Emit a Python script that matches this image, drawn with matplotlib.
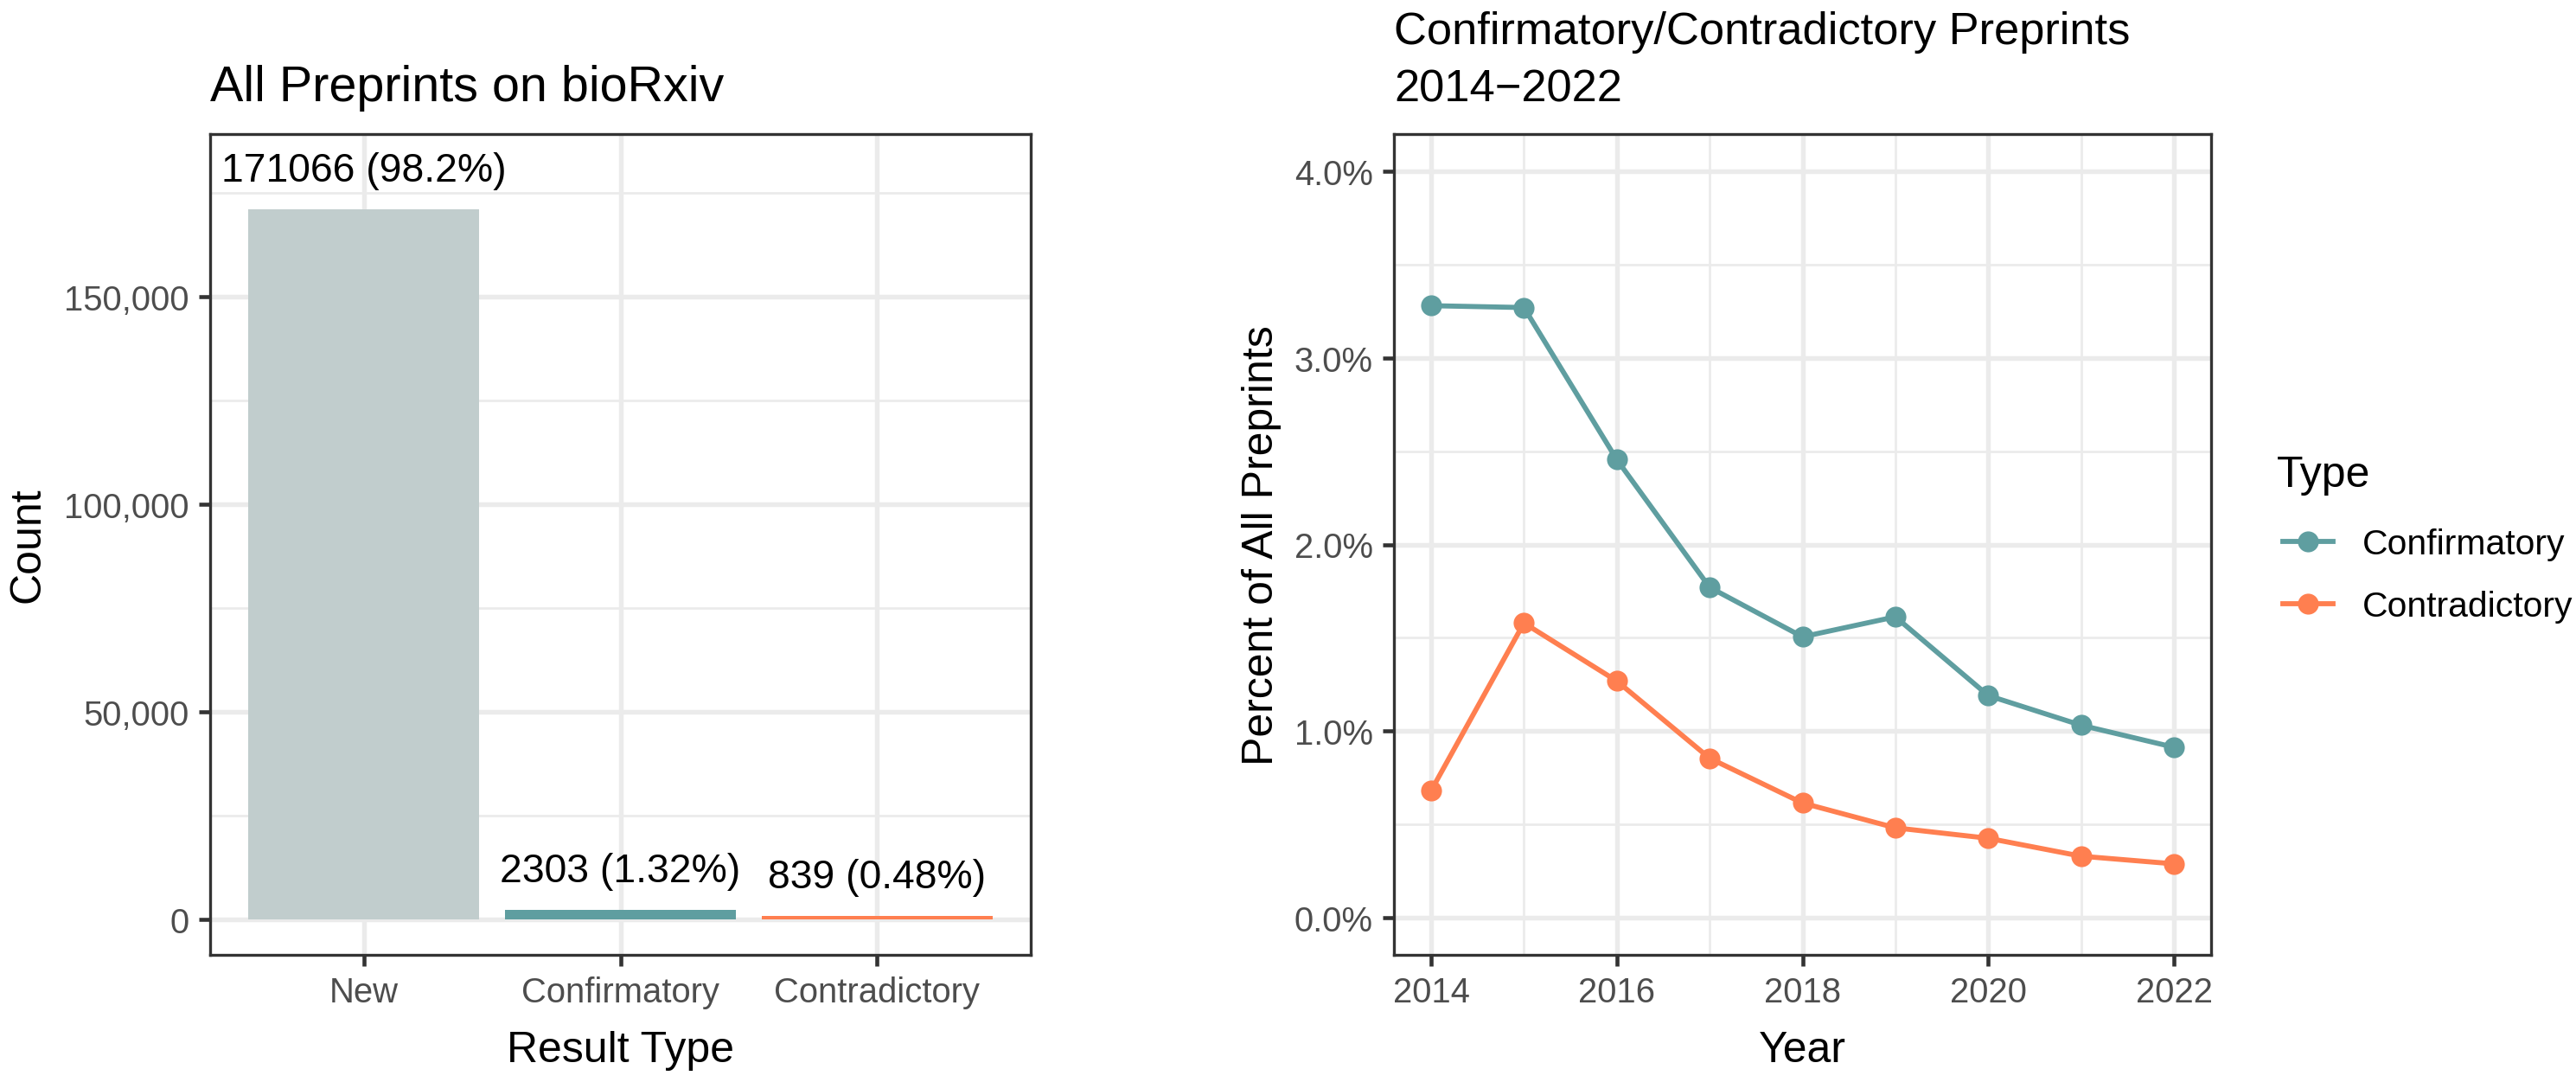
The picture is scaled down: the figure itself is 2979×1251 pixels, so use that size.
import matplotlib
matplotlib.use("Agg")
import matplotlib.pyplot as plt
from matplotlib.ticker import FuncFormatter, MultipleLocator, FixedLocator

plt.rcParams['font.family'] = ['Liberation Sans', 'DejaVu Sans']

# ---- data ----
categories = ["New", "Confirmatory", "Contradictory"]
counts = [171066, 2303, 839]
count_labels = ["171066 (98.2%)", "2303 (1.32%)", "839 (0.48%)"]
bar_colors = ["#C1CDCD", "#5F9EA0", "#FF7F50"]

years = [2014, 2015, 2016, 2017, 2018, 2019, 2020, 2021, 2022]
confirmatory_pct = [3.28, 3.27, 2.455, 1.77, 1.505, 1.612, 1.19, 1.031, 0.913]
contradictory_pct = [0.68, 1.579, 1.268, 0.854, 0.614, 0.481, 0.425, 0.329, 0.288]
series_names = ["Confirmatory", "Contradictory"]
series_colors = ["#5F9EA0", "#FF7F50"]

W, H = 2979, 1252
fig = plt.figure(figsize=(W / 300, H / 300), dpi=300)

def ax_rect(x0, x1, y0, y1):
    return [x0 / W, 1 - y1 / H, (x1 - x0) / W, (y1 - y0) / H]

grid_col = "#EBEBEB"
border_col = "#333333"
tick_col = "#4D4D4D"

def style(ax):
    ax.set_facecolor("white")
    for s in ax.spines.values():
        s.set_color(border_col)
        s.set_linewidth(0.8)
    ax.tick_params(axis="both", which="major", length=3.2, width=1.1, color=border_col,
                   labelsize=9.6, labelcolor=tick_col, pad=2.6)
    ax.tick_params(axis="both", which="minor", length=0)
    ax.grid(True, which="major", color=grid_col, linewidth=1.3, zorder=0)
    ax.grid(True, which="minor", color=grid_col, linewidth=0.65, zorder=0)
    ax.set_axisbelow(True)

AX_TOP, AX_BOT = 156, 1105

# ---- left panel ----
ax1 = fig.add_axes(ax_rect(243, 1192, AX_TOP, AX_BOT))
style(ax1)
xpos = list(range(len(categories)))
ax1.bar(xpos, counts, width=0.9, color=bar_colors, zorder=2)
for x, c, lab in zip(xpos, counts, count_labels):
    ax1.annotate(lab, (x, c), xytext=(0, 8), textcoords="offset points",
                 ha="center", va="baseline", fontsize=11.1, color="black")
ax1.set_xlim(-0.6, 2.6)
ax1.set_ylim(-8500, 189200)
ax1.set_xticks(xpos)
ax1.set_xticklabels(categories)
ax1.yaxis.set_major_locator(FixedLocator([0, 50000, 100000, 150000]))
ax1.yaxis.set_minor_locator(FixedLocator([25000, 75000, 125000, 175000]))
ax1.yaxis.set_major_formatter(FuncFormatter(lambda v, p: f"{int(v):,}"))
ax1.set_xlabel("Result Type", fontsize=12, labelpad=6)
ax1.set_ylabel("Count", fontsize=12, labelpad=4.5)
ax1.set_title("All Preprints on bioRxiv", fontsize=13.8, loc="left",
              y=(AX_BOT - 117) / (AX_BOT - AX_TOP), pad=0, va="baseline")

# ---- right panel ----
ax2 = fig.add_axes(ax_rect(1612, 2557, AX_TOP, AX_BOT))
style(ax2)
for vals, name, col in zip([confirmatory_pct, contradictory_pct], series_names, series_colors):
    ax2.plot(years, vals, color=col, lw=1.4, marker="o", markersize=4.8,
             label=name, zorder=3)
ax2.set_xlim(2013.6, 2022.4)
ax2.set_ylim(-0.2, 4.2)
ax2.xaxis.set_major_locator(MultipleLocator(2))
ax2.xaxis.set_minor_locator(MultipleLocator(1))
ax2.yaxis.set_major_locator(MultipleLocator(1))
ax2.yaxis.set_minor_locator(MultipleLocator(0.5))
ax2.yaxis.set_major_formatter(FuncFormatter(lambda v, p: f"{v:.1f}%"))
ax2.set_xlabel("Year", fontsize=12, labelpad=6)
ax2.set_ylabel("Percent of All Preprints", fontsize=12, labelpad=3.5)
ax2.set_title("Confirmatory/Contradictory Preprints\n2014\u22122022", fontsize=12.6,
              loc="left", y=(AX_BOT - 117) / (AX_BOT - AX_TOP), pad=0, va="baseline",
              linespacing=1.45)

# legend
fig.text(2633 / W, 1 - 563 / H, "Type", fontsize=12, ha="left", va="baseline")
leg = ax2.legend(loc="center left", bbox_to_anchor=(2640 / W, 1 - 666 / H),
                 bbox_transform=fig.transFigure, frameon=False, fontsize=9.8,
                 handlelength=1.42, handletextpad=0.83,
                 labelspacing=0.83, borderpad=0, borderaxespad=0)

fig.savefig("out.png", dpi=300)
